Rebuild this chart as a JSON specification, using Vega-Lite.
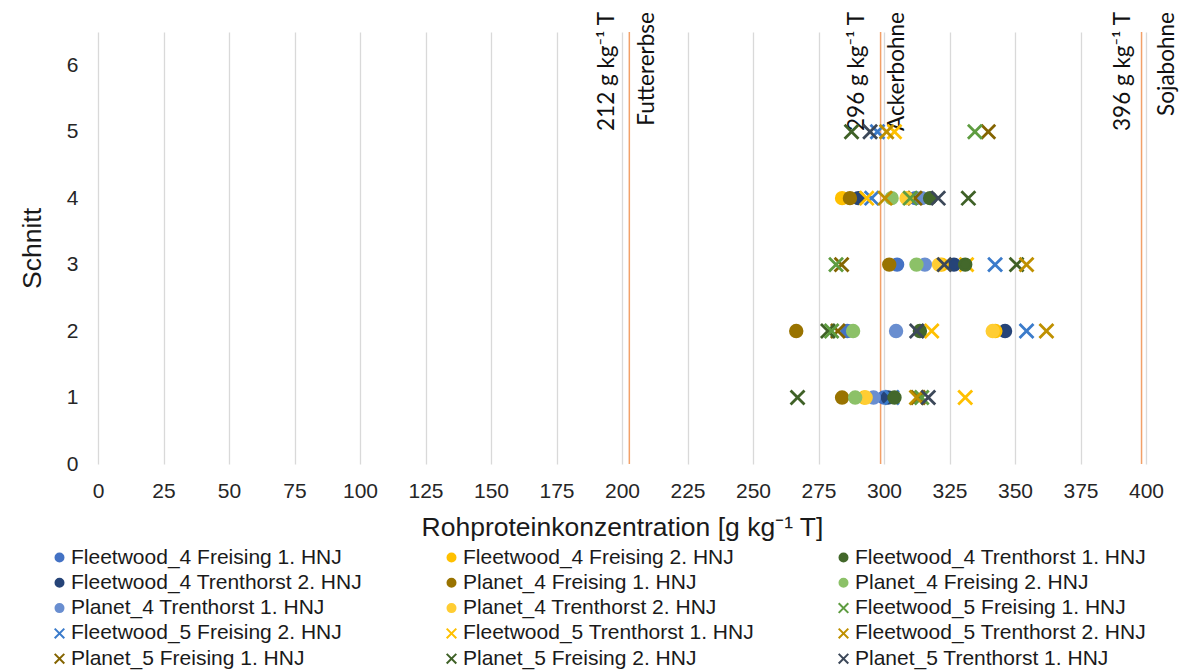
{
  "$schema": "https://vega.github.io/schema/vega-lite/v6.json",
  "width": 1048,
  "height": 432,
  "autosize": {"type": "none"},
  "padding": {"left": 98, "top": 32, "right": 34, "bottom": 207},
  "background": "white",
  "config": {
    "view": {"stroke": null},
    "font": "Liberation Sans",
    "axis": {"labelFont": "Liberation Sans", "titleFont": "Liberation Sans", "labelColor": "#262626", "titleColor": "#1a1a1a", "gridColor": "#D9D9D9", "gridWidth": 1.3, "domain": false, "ticks": false, "titleFontWeight": "normal"},
    "legend": {"labelFont": "Liberation Sans", "labelFontSize": 21, "labelColor": "#1a1a1a", "orient": "none", "direction": "vertical", "padding": 0, "rowPadding": 3.3, "labelOffset": 1, "symbolSize": 64, "symbolStrokeWidth": 2, "labelLimit": 500}
  },
  "datasets": {
    "pts": [
      {"series": "Fleetwood_4 Freising 1. HNJ", "schnitt": 1, "value": 300},
      {"series": "Fleetwood_4 Freising 1. HNJ", "schnitt": 2, "value": 286},
      {"series": "Fleetwood_4 Freising 1. HNJ", "schnitt": 3, "value": 305},
      {"series": "Fleetwood_4 Freising 1. HNJ", "schnitt": 4, "value": 312},
      {"series": "Fleetwood_4 Freising 2. HNJ", "schnitt": 1, "value": 292.5},
      {"series": "Fleetwood_4 Freising 2. HNJ", "schnitt": 2, "value": 342.5},
      {"series": "Fleetwood_4 Freising 2. HNJ", "schnitt": 3, "value": 322},
      {"series": "Fleetwood_4 Freising 2. HNJ", "schnitt": 4, "value": 284},
      {"series": "Fleetwood_4 Trenthorst 1. HNJ", "schnitt": 1, "value": 304},
      {"series": "Fleetwood_4 Trenthorst 1. HNJ", "schnitt": 2, "value": 313.7},
      {"series": "Fleetwood_4 Trenthorst 1. HNJ", "schnitt": 3, "value": 331},
      {"series": "Fleetwood_4 Trenthorst 1. HNJ", "schnitt": 4, "value": 317.6},
      {"series": "Fleetwood_4 Trenthorst 2. HNJ", "schnitt": 1, "value": 301.5},
      {"series": "Fleetwood_4 Trenthorst 2. HNJ", "schnitt": 2, "value": 346.2},
      {"series": "Fleetwood_4 Trenthorst 2. HNJ", "schnitt": 3, "value": 326.7},
      {"series": "Fleetwood_4 Trenthorst 2. HNJ", "schnitt": 4, "value": 290.2},
      {"series": "Planet_4 Freising 1. HNJ", "schnitt": 1, "value": 284},
      {"series": "Planet_4 Freising 1. HNJ", "schnitt": 2, "value": 266.5},
      {"series": "Planet_4 Freising 1. HNJ", "schnitt": 3, "value": 302},
      {"series": "Planet_4 Freising 1. HNJ", "schnitt": 4, "value": 287},
      {"series": "Planet_4 Freising 2. HNJ", "schnitt": 1, "value": 289},
      {"series": "Planet_4 Freising 2. HNJ", "schnitt": 2, "value": 288.2},
      {"series": "Planet_4 Freising 2. HNJ", "schnitt": 3, "value": 312.4},
      {"series": "Planet_4 Freising 2. HNJ", "schnitt": 4, "value": 302.9},
      {"series": "Planet_4 Trenthorst 1. HNJ", "schnitt": 1, "value": 296},
      {"series": "Planet_4 Trenthorst 1. HNJ", "schnitt": 2, "value": 304.6},
      {"series": "Planet_4 Trenthorst 1. HNJ", "schnitt": 3, "value": 315.6},
      {"series": "Planet_4 Trenthorst 1. HNJ", "schnitt": 4, "value": 314.4},
      {"series": "Planet_4 Trenthorst 2. HNJ", "schnitt": 1, "value": 293},
      {"series": "Planet_4 Trenthorst 2. HNJ", "schnitt": 2, "value": 341.5},
      {"series": "Planet_4 Trenthorst 2. HNJ", "schnitt": 3, "value": 321},
      {"series": "Planet_4 Trenthorst 2. HNJ", "schnitt": 4, "value": 308.6},
      {"series": "Fleetwood_5 Freising 1. HNJ", "schnitt": 1, "value": 314.4},
      {"series": "Fleetwood_5 Freising 1. HNJ", "schnitt": 2, "value": 280},
      {"series": "Fleetwood_5 Freising 1. HNJ", "schnitt": 3, "value": 281.7},
      {"series": "Fleetwood_5 Freising 1. HNJ", "schnitt": 4, "value": 310},
      {"series": "Fleetwood_5 Freising 1. HNJ", "schnitt": 5, "value": 334.7},
      {"series": "Fleetwood_5 Freising 2. HNJ", "schnitt": 1, "value": 303},
      {"series": "Fleetwood_5 Freising 2. HNJ", "schnitt": 2, "value": 354.4},
      {"series": "Fleetwood_5 Freising 2. HNJ", "schnitt": 3, "value": 342.4},
      {"series": "Fleetwood_5 Freising 2. HNJ", "schnitt": 4, "value": 295.3},
      {"series": "Fleetwood_5 Freising 2. HNJ", "schnitt": 5, "value": 297.5},
      {"series": "Fleetwood_5 Trenthorst 1. HNJ", "schnitt": 1, "value": 331},
      {"series": "Fleetwood_5 Trenthorst 1. HNJ", "schnitt": 2, "value": 318.2},
      {"series": "Fleetwood_5 Trenthorst 1. HNJ", "schnitt": 3, "value": 331.5},
      {"series": "Fleetwood_5 Trenthorst 1. HNJ", "schnitt": 4, "value": 293.4},
      {"series": "Fleetwood_5 Trenthorst 1. HNJ", "schnitt": 5, "value": 304},
      {"series": "Fleetwood_5 Trenthorst 2. HNJ", "schnitt": 1, "value": 312.4},
      {"series": "Fleetwood_5 Trenthorst 2. HNJ", "schnitt": 2, "value": 362},
      {"series": "Fleetwood_5 Trenthorst 2. HNJ", "schnitt": 3, "value": 354.4},
      {"series": "Fleetwood_5 Trenthorst 2. HNJ", "schnitt": 4, "value": 300.4},
      {"series": "Fleetwood_5 Trenthorst 2. HNJ", "schnitt": 5, "value": 301},
      {"series": "Planet_5 Freising 1. HNJ", "schnitt": 1, "value": 313},
      {"series": "Planet_5 Freising 1. HNJ", "schnitt": 2, "value": 282.4},
      {"series": "Planet_5 Freising 1. HNJ", "schnitt": 3, "value": 283.8},
      {"series": "Planet_5 Freising 1. HNJ", "schnitt": 4, "value": 311.8},
      {"series": "Planet_5 Freising 1. HNJ", "schnitt": 5, "value": 339.8},
      {"series": "Planet_5 Freising 2. HNJ", "schnitt": 1, "value": 267},
      {"series": "Planet_5 Freising 2. HNJ", "schnitt": 2, "value": 278.6},
      {"series": "Planet_5 Freising 2. HNJ", "schnitt": 3, "value": 350.6},
      {"series": "Planet_5 Freising 2. HNJ", "schnitt": 4, "value": 332.2},
      {"series": "Planet_5 Freising 2. HNJ", "schnitt": 5, "value": 287.6},
      {"series": "Planet_5 Trenthorst 1. HNJ", "schnitt": 1, "value": 316.9},
      {"series": "Planet_5 Trenthorst 1. HNJ", "schnitt": 2, "value": 312.5},
      {"series": "Planet_5 Trenthorst 1. HNJ", "schnitt": 3, "value": 323},
      {"series": "Planet_5 Trenthorst 1. HNJ", "schnitt": 4, "value": 320.7},
      {"series": "Planet_5 Trenthorst 1. HNJ", "schnitt": 5, "value": 294.7}
    ],
    "reflines": [{"value": 202.8}, {"value": 298.7}, {"value": 398.3}],
    "annot": [
      {"label": "212 g kg⁻¹ T", "value": 196.9},
      {"label": "Futtererbse", "value": 212.4},
      {"label": "296 g kg⁻¹ T", "value": 292.4},
      {"label": "Ackerbohne", "value": 307.5},
      {"label": "396 g kg⁻¹ T", "value": 393.9},
      {"label": "Sojabohne", "value": 410.7}
    ]
  },
  "layer": [
    {
      "data": {"name": "reflines"},
      "mark": {"type": "rule", "color": "#F2A068", "strokeWidth": 1.5},
      "encoding": {
        "x": {"field": "value", "type": "quantitative", "scale": {"domain": [0, 400], "nice": false, "zero": false},
          "axis": {"values": [0,25,50,75,100,125,150,175,200,225,250,275,300,325,350,375,400], "labelFlush": false, "labelFontSize": 21, "labelPadding": 16, "title": "Rohproteinkonzentration [g kg⁻¹ T]", "titleFontSize": 26.5, "titleY": 71, "titleBaseline": "alphabetic"}}
      }
    },
    {
      "data": {"name": "annot"},
      "mark": {"type": "text", "angle": 270, "align": "right", "baseline": "alphabetic", "font": "Lato", "fontSize": 22.5, "fill": "#111111"},
      "encoding": {
        "x": {"field": "value", "type": "quantitative"},
        "y": {"datum": 6.8, "type": "quantitative"},
        "text": {"field": "label", "type": "nominal"}
      }
    },
    {
      "data": {"name": "pts"},
      "transform": [{"filter": {"field": "series", "oneOf": ["Fleetwood_4 Freising 1. HNJ", "Fleetwood_4 Trenthorst 2. HNJ", "Planet_4 Trenthorst 1. HNJ", "Fleetwood_5 Freising 2. HNJ", "Planet_5 Freising 1. HNJ"]}}],
      "mark": {"type": "point", "filled": true, "opacity": 1, "size": 135, "strokeWidth": 2.8},
      "encoding": {
        "x": {"field": "value", "type": "quantitative"},
        "y": {"field": "schnitt", "type": "quantitative", "scale": {"domain": [0, 6.5], "nice": false},
          "axis": {"values": [0,1,2,3,4,5,6], "format": "d", "labelFontSize": 21, "labelPadding": 20, "title": "Schnitt", "titleFontSize": 26.5, "titleAngle": 270, "titleX": -58, "titleY": 216, "titleAlign": "center", "titleBaseline": "alphabetic"}},
        "fill": {"field": "series", "type": "nominal", "scale": {"domain": ["Fleetwood_4 Freising 1. HNJ", "Fleetwood_4 Trenthorst 2. HNJ", "Planet_4 Trenthorst 1. HNJ", "Fleetwood_5 Freising 2. HNJ", "Planet_5 Freising 1. HNJ"], "range": ["#4472C4", "#264478", "#698ED0", "#3B7BCB", "#846400"]}, "legend": {"title": null, "legendX": -49, "legendY": 515}},
        "stroke": {"field": "series", "type": "nominal", "scale": {"domain": ["Fleetwood_4 Freising 1. HNJ", "Fleetwood_4 Trenthorst 2. HNJ", "Planet_4 Trenthorst 1. HNJ", "Fleetwood_5 Freising 2. HNJ", "Planet_5 Freising 1. HNJ"], "range": ["#4472C4", "#264478", "#698ED0", "#3B7BCB", "#846400"]}, "legend": {"title": null, "legendX": -49, "legendY": 515}},
        "shape": {"field": "series", "type": "nominal", "scale": {"domain": ["Fleetwood_4 Freising 1. HNJ", "Fleetwood_4 Trenthorst 2. HNJ", "Planet_4 Trenthorst 1. HNJ", "Fleetwood_5 Freising 2. HNJ", "Planet_5 Freising 1. HNJ"], "range": ["circle", "circle", "circle", "M-1.2,-1.2L1.2,1.2M1.2,-1.2L-1.2,1.2", "M-1.2,-1.2L1.2,1.2M1.2,-1.2L-1.2,1.2"]}, "legend": {"title": null, "legendX": -49, "legendY": 515}}
      }
    },
    {
      "data": {"name": "pts"},
      "transform": [{"filter": {"field": "series", "oneOf": ["Fleetwood_4 Freising 2. HNJ", "Planet_4 Freising 1. HNJ", "Planet_4 Trenthorst 2. HNJ", "Fleetwood_5 Trenthorst 1. HNJ", "Planet_5 Freising 2. HNJ"]}}],
      "mark": {"type": "point", "filled": true, "opacity": 1, "size": 135, "strokeWidth": 2.8},
      "encoding": {
        "x": {"field": "value", "type": "quantitative"},
        "y": {"field": "schnitt", "type": "quantitative"},
        "fill": {"field": "series", "type": "nominal", "scale": {"domain": ["Fleetwood_4 Freising 2. HNJ", "Planet_4 Freising 1. HNJ", "Planet_4 Trenthorst 2. HNJ", "Fleetwood_5 Trenthorst 1. HNJ", "Planet_5 Freising 2. HNJ"], "range": ["#FFC000", "#997300", "#FFCD33", "#FFC000", "#3F6127"]}, "legend": {"title": null, "legendX": 343, "legendY": 515}},
        "stroke": {"field": "series", "type": "nominal", "scale": {"domain": ["Fleetwood_4 Freising 2. HNJ", "Planet_4 Freising 1. HNJ", "Planet_4 Trenthorst 2. HNJ", "Fleetwood_5 Trenthorst 1. HNJ", "Planet_5 Freising 2. HNJ"], "range": ["#FFC000", "#997300", "#FFCD33", "#FFC000", "#3F6127"]}, "legend": {"title": null, "legendX": 343, "legendY": 515}},
        "shape": {"field": "series", "type": "nominal", "scale": {"domain": ["Fleetwood_4 Freising 2. HNJ", "Planet_4 Freising 1. HNJ", "Planet_4 Trenthorst 2. HNJ", "Fleetwood_5 Trenthorst 1. HNJ", "Planet_5 Freising 2. HNJ"], "range": ["circle", "circle", "circle", "M-1.2,-1.2L1.2,1.2M1.2,-1.2L-1.2,1.2", "M-1.2,-1.2L1.2,1.2M1.2,-1.2L-1.2,1.2"]}, "legend": {"title": null, "legendX": 343, "legendY": 515}}
      }
    },
    {
      "data": {"name": "pts"},
      "transform": [{"filter": {"field": "series", "oneOf": ["Fleetwood_4 Trenthorst 1. HNJ", "Planet_4 Freising 2. HNJ", "Fleetwood_5 Freising 1. HNJ", "Fleetwood_5 Trenthorst 2. HNJ", "Planet_5 Trenthorst 1. HNJ"]}}],
      "mark": {"type": "point", "filled": true, "opacity": 1, "size": 135, "strokeWidth": 2.8},
      "encoding": {
        "x": {"field": "value", "type": "quantitative"},
        "y": {"field": "schnitt", "type": "quantitative"},
        "fill": {"field": "series", "type": "nominal", "scale": {"domain": ["Fleetwood_4 Trenthorst 1. HNJ", "Planet_4 Freising 2. HNJ", "Fleetwood_5 Freising 1. HNJ", "Fleetwood_5 Trenthorst 2. HNJ", "Planet_5 Trenthorst 1. HNJ"], "range": ["#43682B", "#8CC168", "#5E9C40", "#BF9000", "#3C4859"]}, "legend": {"title": null, "legendX": 735, "legendY": 515}},
        "stroke": {"field": "series", "type": "nominal", "scale": {"domain": ["Fleetwood_4 Trenthorst 1. HNJ", "Planet_4 Freising 2. HNJ", "Fleetwood_5 Freising 1. HNJ", "Fleetwood_5 Trenthorst 2. HNJ", "Planet_5 Trenthorst 1. HNJ"], "range": ["#43682B", "#8CC168", "#5E9C40", "#BF9000", "#3C4859"]}, "legend": {"title": null, "legendX": 735, "legendY": 515}},
        "shape": {"field": "series", "type": "nominal", "scale": {"domain": ["Fleetwood_4 Trenthorst 1. HNJ", "Planet_4 Freising 2. HNJ", "Fleetwood_5 Freising 1. HNJ", "Fleetwood_5 Trenthorst 2. HNJ", "Planet_5 Trenthorst 1. HNJ"], "range": ["circle", "circle", "M-1.2,-1.2L1.2,1.2M1.2,-1.2L-1.2,1.2", "M-1.2,-1.2L1.2,1.2M1.2,-1.2L-1.2,1.2", "M-1.2,-1.2L1.2,1.2M1.2,-1.2L-1.2,1.2"]}, "legend": {"title": null, "legendX": 735, "legendY": 515}}
      }
    }
  ],
  "resolve": {
    "scale": {"fill": "independent", "stroke": "independent", "shape": "independent"},
    "legend": {"fill": "independent", "stroke": "independent", "shape": "independent"}
  }
}
